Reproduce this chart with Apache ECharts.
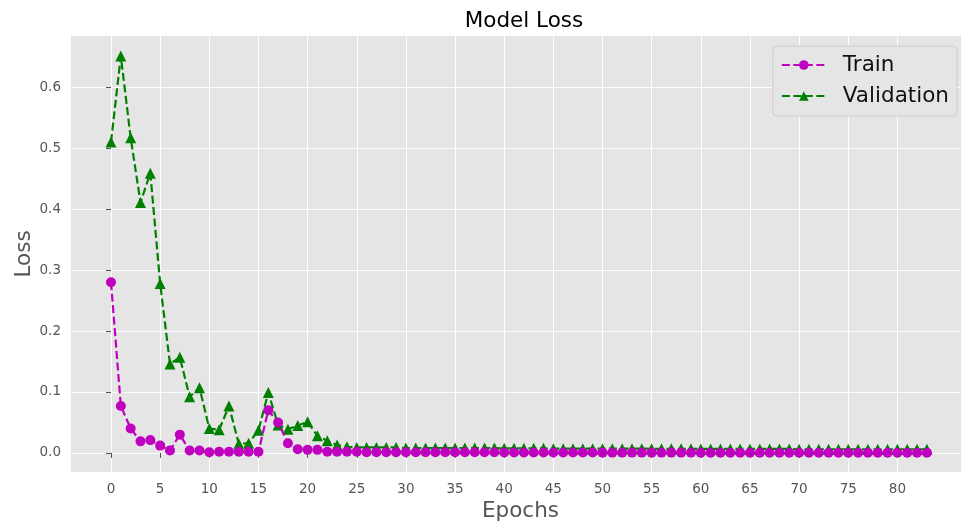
<!DOCTYPE html>
<html>
<head>
<meta charset="utf-8">
<script src="https://cdn.jsdelivr.net/npm/echarts@6/dist/echarts.min.js"></script>
<style>
  html, body { margin: 0; padding: 0; background: #fff; overflow: hidden; }
  #chart { width: 961px; height: 522px; }
</style>
</head>
<body>
<div id="chart"></div>
<script>
// loss per epoch
var trainLoss = [
    0.280, 0.077, 0.040, 0.019, 0.021, 0.012, 0.004, 0.030, 0.004, 0.004,
    0.001, 0.002, 0.002, 0.002, 0.002, 0.002, 0.070, 0.050, 0.016, 0.006,
    0.005, 0.005, 0.002, 0.002, 0.002, 0.002, 0.001, 0.001, 0.001, 0.001,
    0.001, 0.001, 0.001, 0.001, 0.001, 0.001, 0.001, 0.001, 0.001, 0.001,
    0.0008, 0.0008, 0.0008, 0.0008, 0.0008, 0.0006, 0.0006, 0.0006, 0.0006, 0.0006,
    0.0005, 0.0005, 0.0005, 0.0005, 0.0005, 0.0005, 0.0005, 0.0005, 0.0005, 0.0005,
    0.0004, 0.0004, 0.0004, 0.0004, 0.0004, 0.0004, 0.0004, 0.0004, 0.0004, 0.0004,
    0.0003, 0.0003, 0.0003, 0.0003, 0.0003, 0.0003, 0.0003, 0.0003, 0.0003, 0.0003,
    0.0003, 0.0003, 0.0003, 0.0003
];
var valLoss = [
    0.510, 0.651, 0.517, 0.411, 0.459, 0.278, 0.146, 0.157, 0.092, 0.107,
    0.040, 0.038, 0.077, 0.015, 0.016, 0.037, 0.099, 0.046, 0.039, 0.045,
    0.051, 0.028, 0.020, 0.013, 0.010, 0.009, 0.009, 0.009, 0.009, 0.009,
    0.008, 0.008, 0.008, 0.008, 0.008, 0.008, 0.008, 0.008, 0.008, 0.008,
    0.0075, 0.0075, 0.0075, 0.0075, 0.0075, 0.007, 0.007, 0.007, 0.007, 0.007,
    0.007, 0.007, 0.007, 0.007, 0.007, 0.0068, 0.0068, 0.0068, 0.0068, 0.0068,
    0.0065, 0.0065, 0.0065, 0.0065, 0.0065, 0.0065, 0.0065, 0.0065, 0.0065, 0.0065,
    0.006, 0.006, 0.006, 0.006, 0.006, 0.006, 0.006, 0.006, 0.006, 0.006,
    0.006, 0.006, 0.006, 0.006
];
var xTicks = [0, 5, 10, 15, 20, 25, 30, 35, 40, 45, 50, 55, 60, 65, 70, 75, 80];
var yTicks = [0.0, 0.1, 0.2, 0.3, 0.4, 0.5, 0.6];

function pairs(arr) {
    return arr.map(function (v, i) { return [i, v]; });
}

var font = 'DejaVu Sans';
var myChart = echarts.init(document.getElementById('chart'), null, { renderer: 'canvas' });

var option = {
    animation: false,
    backgroundColor: '#ffffff',
    title: {
        text: 'Model Loss',
        left: 519,
        top: 5,
        textAlign: 'center',
        textStyle: { fontFamily: font, fontSize: 21.5, fontWeight: 'normal', color: '#000' }
    },
    legend: {
        orient: 'vertical',
        right: 4,
        top: 46,
        padding: [7, 8, 8, 8],
        itemGap: 7,
        itemWidth: 44,
        itemHeight: 12,
        backgroundColor: '#E5E5E5',
        borderColor: '#CCCCCC',
        borderWidth: 1,
        borderRadius: 4,
        textStyle: { fontFamily: font, fontSize: 21.5, color: '#111', lineHeight: 24, padding: [0, 0, 0, 12] },
        data: ['Train', 'Validation']
    },
    grid: {
        left: 71,
        right: 0,
        top: 36,
        bottom: 50,
        outerBoundsMode: 'none',
        show: true,
        backgroundColor: '#E5E5E5',
        borderWidth: 0
    },
    xAxis: {
        type: 'value',
        min: -4.07,
        max: 86.47,
        name: 'Epochs',
        nameLocation: 'middle',
        nameGap: 28,
        nameMoveOverlap: false,
        nameTextStyle: { fontFamily: font, fontSize: 21.5, color: '#555', padding: [0, 0, 0, 9] },
        axisLine: { show: false },
        axisTick: { show: true, length: 5, lineStyle: { color: '#555' }, customValues: xTicks },
        axisLabel: { fontFamily: font, fontSize: 13.5, color: '#555', margin: 10, customValues: xTicks },
        splitLine: { show: true, lineStyle: { color: '#ffffff', width: 1 } }
    },
    yAxis: {
        type: 'value',
        min: -0.0313,
        max: 0.684,
        name: 'Loss',
        nameLocation: 'middle',
        nameGap: 36,
        nameMoveOverlap: false,
        nameTextStyle: { fontFamily: font, fontSize: 21.5, color: '#555' },
        axisLine: { show: false },
        axisTick: { show: true, length: 5, lineStyle: { color: '#555' }, customValues: yTicks },
        axisLabel: {
            fontFamily: font, fontSize: 13.5, color: '#555', margin: 10, customValues: yTicks,
            formatter: function (v) { return v.toFixed(1); }
        },
        splitLine: { show: true, lineStyle: { color: '#ffffff', width: 1 } }
    },
    series: [
        {
            name: 'Train',
            type: 'line',
            data: pairs(trainLoss),
            symbol: 'circle',
            symbolSize: 10,
            itemStyle: { color: '#BF00BF' },
            lineStyle: { color: '#BF00BF', width: 2.2, type: [8, 3.5] },
            z: 3
        },
        {
            name: 'Validation',
            type: 'line',
            data: pairs(valLoss),
            symbol: 'triangle',
            symbolSize: 11,
            itemStyle: { color: '#008000' },
            lineStyle: { color: '#008000', width: 2.2, type: [8, 3.5] },
            z: 2
        }
    ]
};
myChart.setOption(option);
</script>
</body>
</html>
